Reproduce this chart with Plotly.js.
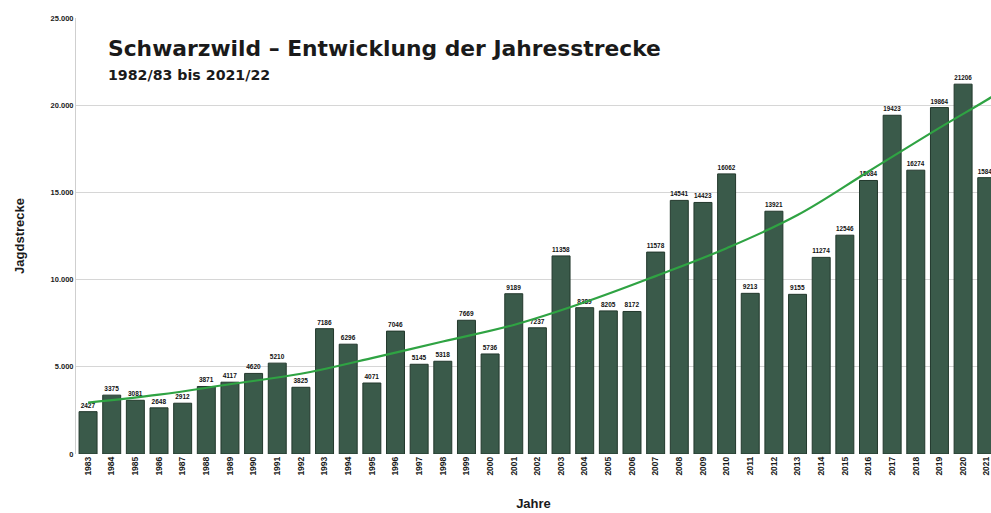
<!DOCTYPE html>
<html>
<head>
<meta charset="utf-8">
<script src="https://cdn.plot.ly/plotly-3.0.1.min.js"></script>
<style>html,body{margin:0;padding:0;background:#fff;}#chart{width:991px;height:513px;}</style>
</head>
<body>
<div id="chart"></div>
<script>
const years = [1983,1984,1985,1986,1987,1988,1989,1990,1991,1992,1993,1994,1995,1996,1997,1998,1999,2000,2001,2002,2003,2004,2005,2006,2007,2008,2009,2010,2011,2012,2013,2014,2015,2016,2017,2018,2019,2020,2021];
const strecke = [2427,3375,3081,2648,2912,3871,4117,4620,5210,3825,7186,6296,4071,7046,5145,5318,7669,5736,9189,7237,11358,8389,8205,8172,11578,14541,14423,16062,9213,13921,9155,11274,12546,15684,19423,16274,19864,21206,15846];
const trendYears = [1983,1986,1989,1992,1995,1998,2001,2004,2007,2010,2013,2016,2019,2021,2022];
const trendValues = [2950,3400,4000,4600,5500,6450,7400,8700,10200,11800,13700,16200,18700,20300,21150];
const yTicks = [0,5000,10000,15000,20000,25000];

const bars = {
  type: 'bar', x: years, y: strecke,
  marker: {color: '#3a5a4a', line: {color: '#22382c', width: 1}},
  text: strecke.map(v => String(v)), textposition: 'outside', cliponaxis: false,
  textfont: {family: 'Liberation Sans, Arial, sans-serif', size: 6.5, color: '#111', weight: 'bold'},
  hoverinfo: 'x+y', showlegend: false
};
const trend = {
  type: 'scatter', mode: 'lines', x: trendYears, y: trendValues,
  line: {color: '#2fa343', width: 2.2, shape: 'spline', smoothing: 1.1},
  hoverinfo: 'skip', showlegend: false
};

const layout = {
  width: 991, height: 513,
  margin: {l: 76, r: 0, t: 18, b: 59},
  paper_bgcolor: '#fff', plot_bgcolor: '#fff',
  separators: ',.',
  bargap: 0.24,
  font: {family: 'Liberation Sans, Arial, sans-serif', color: '#222'},
  xaxis: {
    range: [1982.49, 2021.18], tickmode: 'array', tickvals: years, ticktext: years.map(String),
    tickangle: -90, ticklabeloverflow: 'allow',
    tickfont: {size: 8.5, family: 'Liberation Sans, Arial, sans-serif', weight: 'bold', color: '#1a1a1a'},
    showgrid: false, zeroline: false, showline: false, ticks: '',
    title: {text: '<b>Jahre</b>', font: {size: 13, color: '#1a1a1a'}, standoff: 24}
  },
  yaxis: {
    range: [0, 25000], tickmode: 'array', tickvals: yTicks, tickformat: ',d',
    tickfont: {size: 7.5, weight: 'bold', color: '#1a1a1a'},
    showgrid: true, gridcolor: '#d6d6d6', gridwidth: 1, zeroline: false,
    showline: true, linecolor: '#cfcfcf', linewidth: 1, ticks: '', ticklen: 0,
    title: {text: '<b>Jagdstrecke</b>', font: {size: 13, color: '#1a1a1a'}, standoff: 22}
  },
  annotations: [
    {xref: 'paper', yref: 'paper', x: 0.033, y: 0.931, xanchor: 'left', yanchor: 'middle', showarrow: false,
     text: '<b>Schwarzwild – Entwicklung der Jahresstrecke</b>', font: {family: 'DejaVu Sans, sans-serif', size: 21.8, color: '#1a1a1a'}},
    {xref: 'paper', yref: 'paper', x: 0.033, y: 0.869, xanchor: 'left', yanchor: 'middle', showarrow: false,
     text: '<b>1982/83 bis 2021/22</b>', font: {family: 'DejaVu Sans, sans-serif', size: 14.2, color: '#1a1a1a'}}
  ]
};
Plotly.newPlot('chart', [bars, trend], layout, {displayModeBar: false, staticPlot: true});
</script>
</body>
</html>
